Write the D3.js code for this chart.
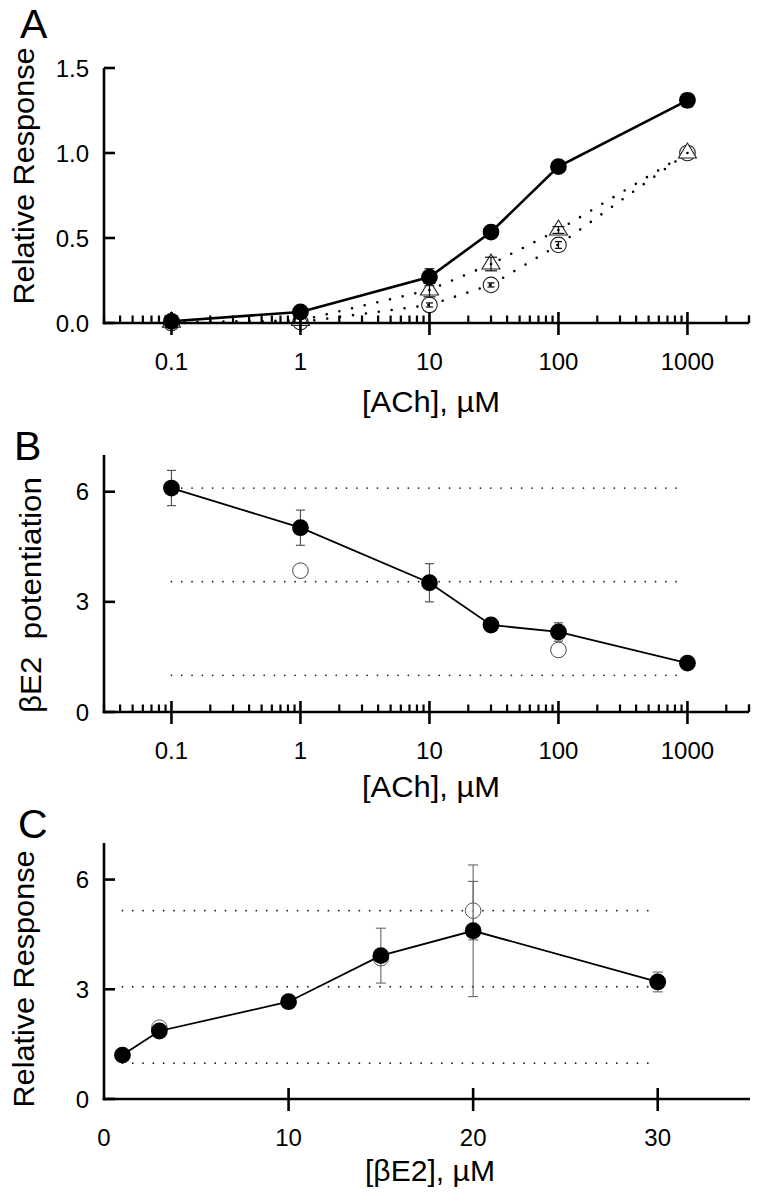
<!DOCTYPE html>
<html><head><meta charset="utf-8">
<script src="https://cdn.jsdelivr.net/npm/d3@7"></script>
<style>body{margin:0;background:#fff}svg{display:block}text{font-family:"Liberation Sans",Arial,Helvetica,sans-serif;fill:#000}</style>
</head><body><svg id="c" width="761" height="1199"></svg>
<script>
// ---------- DATA ----------
// Panel A
const aX = [0.1, 1, 10, 30, 100, 1000];
const aFilled = [0.01, 0.065, 0.27, 0.535, 0.92, 1.31];
const aFilledErr = [0.01, 0.01, 0.05, 0.015, 0.02, 0.04];
const aCircle = [0.0, 0.005, 0.106, 0.224, 0.459, 1.0];
const aCircleErr = [0.0, 0.0, 0.012, 0.012, 0.02, 0.0];
const aTriangle = [0.005, 0.015, 0.194, 0.347, 0.547, 1.0];
const aTriangleErr = [0.0, 0.0, 0.04, 0.04, 0.02, 0.0];
const aYTicks = [0, 0.5, 1.0, 1.5];
const aYTickLabels = ["0.0", "0.5", "1.0", "1.5"];
// Panel B
const bX = [0.1, 1, 10, 30, 100, 1000];
const bFilled = [6.1, 5.02, 3.52, 2.37, 2.18, 1.33];
const bFilledErr = [0.48, 0.48, 0.52, 0.05, 0.25, 0.05];
const bOpenX = [1, 100];
const bOpen = [3.85, 1.69];
const bRefLines = [6.1, 3.55, 1.0];
const bRefRange = [0.1, 900];
const bYTicks = [0, 3, 6];
// Shared log x axis (A, B)
const logMajor = [0.1, 1, 10, 100, 1000];
const logMajorLabels = ["0.1", "1", "10", "100", "1000"];
const logDomain = [0.03, 3000];
// Panel C
const cX = [1, 3, 10, 15, 20, 30];
const cFilled = [1.2, 1.86, 2.66, 3.92, 4.6, 3.2];
const cFilledErr = [0.05, 0.06, 0.05, 0.75, 1.8, 0.27];
const cOpenX = [3, 15, 20];
const cOpen = [1.95, 3.85, 5.15];
const cOpenErr = [0.0, 0.0, 0.8];
const cRefLines = [5.15, 3.07, 0.98];
const cRefRange = [1, 30];
const cXTicks = [0, 10, 20, 30];
const cYTicks = [0, 3, 6];

// ---------- DRAW ----------
const svg = d3.select("#c");
const AX = 2.6;

function leftAxis(y, x0, ticks, labels, top, bottom) {
  const g = svg.append("g");
  g.append("line").attr("x1", x0).attr("x2", x0).attr("y1", top).attr("y2", bottom + AX/2)
    .attr("stroke", "#000").attr("stroke-width", AX);
  ticks.forEach((t, i) => {
    g.append("line").attr("x1", x0).attr("x2", x0 + 11).attr("y1", y(t)).attr("y2", y(t))
      .attr("stroke", "#000").attr("stroke-width", AX);
    g.append("text").attr("x", x0 - 15).attr("y", y(t) + 8.5).attr("text-anchor", "end")
      .attr("font-size", 24).text(labels ? labels[i] : String(t));
  });
}

function logBottomAxis(x, y0) {
  const g = svg.append("g");
  g.append("line").attr("x1", x.range()[0] - AX/2).attr("x2", x.range()[1]).attr("y1", y0).attr("y2", y0)
    .attr("stroke", "#000").attr("stroke-width", AX);
  const all = x.ticks();
  const minor = all.filter(t => !logMajor.some(m => Math.abs(m - t) / m < 1e-6));
  minor.forEach(t => {
    g.append("line").attr("x1", x(t)).attr("x2", x(t)).attr("y1", y0).attr("y2", y0 - 7.5)
      .attr("stroke", "#000").attr("stroke-width", 2.2);
  });
  // end tick at domain max
  g.append("line").attr("x1", x(logDomain[1])).attr("x2", x(logDomain[1])).attr("y1", y0).attr("y2", y0 - 7.5)
    .attr("stroke", "#000").attr("stroke-width", 2.2);
  logMajor.forEach((t, i) => {
    g.append("line").attr("x1", x(t)).attr("x2", x(t)).attr("y1", y0 - 11).attr("y2", y0 + 12)
      .attr("stroke", "#000").attr("stroke-width", AX);
    g.append("text").attr("x", x(t)).attr("y", y0 + 47).attr("text-anchor", "middle")
      .attr("font-size", 24).text(logMajorLabels[i]);
  });
}

function yLabel(text, x, yc, len) {
  svg.append("text").attr("transform", `translate(${x},${yc}) rotate(-90)`)
    .attr("text-anchor", "middle").attr("font-size", 30)
    .attr("textLength", len).attr("lengthAdjust", "spacingAndGlyphs")
    .style("white-space", "pre").text(text);
}
function xLabel(text, xc, y, len) {
  svg.append("text").attr("x", xc).attr("y", y).attr("text-anchor", "middle").attr("font-size", 30)
    .attr("textLength", len).attr("lengthAdjust", "spacingAndGlyphs").text(text);
}
function panelLetter(t, x, y) {
  svg.append("text").attr("x", x).attr("y", y).attr("font-size", 41).text(t);
}
function errBar(g, cx, yTop, yBot, color, w, capHalf) {
  g.append("line").attr("x1", cx).attr("x2", cx).attr("y1", yTop).attr("y2", yBot)
    .attr("stroke", color).attr("stroke-width", w);
  [yTop, yBot].forEach(yy => g.append("line").attr("x1", cx - capHalf).attr("x2", cx + capHalf)
    .attr("y1", yy).attr("y2", yy).attr("stroke", color).attr("stroke-width", w));
}

// ===== Panel A =====
const xA = d3.scaleLog().domain(logDomain).range([104, 749]);
const yA = d3.scaleLinear().domain([0, 1.5]).range([323, 68]);
{
  const g = svg.append("g");
  const dotted = d3.line().x((d) => xA(d[0])).y(d => yA(d[1]));
  g.append("path").datum(aX.map((x, i) => [x, aCircle[i]])).attr("d", dotted)
    .attr("fill", "none").attr("stroke", "#000").attr("stroke-width", 2.6)
    .attr("stroke-dasharray", "0,13").attr("stroke-linecap", "round");
  g.append("path").datum(aX.map((x, i) => [x, aTriangle[i]])).attr("d", dotted)
    .attr("fill", "none").attr("stroke", "#000").attr("stroke-width", 2.6)
    .attr("stroke-dasharray", "0,13").attr("stroke-linecap", "round");
  // open circles
  aX.forEach((x, i) => {
    const cx = xA(x), cy = yA(aCircle[i]);
    g.append("circle").attr("cx", cx).attr("cy", cy).attr("r", 7.8)
      .attr("fill", "#fff").attr("stroke", "#222").attr("stroke-width", 1.1);
    if (aCircleErr[i] > 0) errBar(g, cx, yA(aCircle[i] + aCircleErr[i]), yA(aCircle[i] - aCircleErr[i]), "#111", 1.3, 3.5);
    g.append("circle").attr("cx", cx - 1).attr("cy", cy).attr("r", 1.3).attr("fill", "#000");
  });
  // triangles
  aX.forEach((x, i) => {
    const cx = xA(x), cy = yA(aTriangle[i]);
    g.append("path").attr("d", `M${cx},${cy - 10}L${cx + 9},${cy + 5}L${cx - 9},${cy + 5}Z`)
      .attr("fill", "#fff").attr("stroke", "#222").attr("stroke-width", 1.1);
    if (aTriangleErr[i] > 0) errBar(g, cx, yA(aTriangle[i] + aTriangleErr[i]), yA(aTriangle[i] - aTriangleErr[i]), "#111", 1.2, 6);
    g.append("circle").attr("cx", cx).attr("cy", cy).attr("r", 1.3).attr("fill", "#000");
  });
  // filled
  const solid = d3.line().x((d, i) => xA(aX[i])).y(d => yA(d));
  g.append("path").datum(aFilled).attr("d", solid).attr("fill", "none")
    .attr("stroke", "#000").attr("stroke-width", 2.6);
  aX.forEach((x, i) => {
    errBar(g, xA(x), yA(aFilled[i] + aFilledErr[i]), yA(aFilled[i] - aFilledErr[i]), "#333", 1.2, 5);
    g.append("circle").attr("cx", xA(x)).attr("cy", yA(aFilled[i])).attr("r", 8.4).attr("fill", "#000");
  });
}
leftAxis(yA, 104, aYTicks, aYTickLabels, 68, 323);
logBottomAxis(xA, 323);
yLabel("Relative Response", 34, 176, 257);
xLabel("[ACh], \u00b5M", 431, 412, 138);
panelLetter("A", 20, 38);

// ===== Panel B =====
const xB = d3.scaleLog().domain(logDomain).range([104, 749]);
const yB = d3.scaleLinear().domain([0, 7]).range([712, 455]);
{
  const g = svg.append("g");
  bRefLines.forEach(v => {
    g.append("line").attr("x1", xB(bRefRange[0])).attr("x2", xB(bRefRange[1]))
      .attr("y1", yB(v)).attr("y2", yB(v)).attr("stroke", "#222").attr("stroke-width", 1.8)
      .attr("stroke-dasharray", "0,10.3").attr("stroke-linecap", "round");
  });
  bOpenX.forEach((x, i) => {
    g.append("circle").attr("cx", xB(x)).attr("cy", yB(bOpen[i])).attr("r", 7.8)
      .attr("fill", "#fff").attr("stroke", "#444").attr("stroke-width", 1);
  });
  const solid = d3.line().x((d, i) => xB(bX[i])).y(d => yB(d));
  g.append("path").datum(bFilled).attr("d", solid).attr("fill", "none")
    .attr("stroke", "#000").attr("stroke-width", 1.8);
  bX.forEach((x, i) => {
    errBar(g, xB(x), yB(bFilled[i] + bFilledErr[i]), yB(bFilled[i] - bFilledErr[i]), "#555", 1.2, 4.5);
    g.append("circle").attr("cx", xB(x)).attr("cy", yB(bFilled[i])).attr("r", 8.4).attr("fill", "#000");
  });
}
leftAxis(yB, 104, bYTicks, null, 455, 712);
logBottomAxis(xB, 712);
yLabel("\u03b2E2  potentiation", 41, 595, 236);
xLabel("[ACh], \u00b5M", 431, 797, 138);
panelLetter("B", 14, 460);

// ===== Panel C =====
const xC = d3.scaleLinear().domain([0, 35]).range([104, 750]);
const yC = d3.scaleLinear().domain([0, 7]).range([1099, 843]);
{
  const g = svg.append("g");
  cRefLines.forEach(v => {
    g.append("line").attr("x1", xC(cRefRange[0])).attr("x2", xC(cRefRange[1]))
      .attr("y1", yC(v)).attr("y2", yC(v)).attr("stroke", "#222").attr("stroke-width", 1.8)
      .attr("stroke-dasharray", "0,10.3").attr("stroke-linecap", "round");
  });
  cOpenX.forEach((x, i) => {
    if (cOpenErr[i] > 0) errBar(g, xC(x), yC(cOpen[i] + cOpenErr[i]), yC(cOpen[i] - cOpenErr[i]), "#666", 1.1, 5);
    g.append("circle").attr("cx", xC(x)).attr("cy", yC(cOpen[i])).attr("r", 7.8)
      .attr("fill", "#fff").attr("fill-opacity", 0.6).attr("stroke", "#555").attr("stroke-width", 1);
  });
  const solid = d3.line().x((d, i) => xC(cX[i])).y(d => yC(d));
  g.append("path").datum(cFilled).attr("d", solid).attr("fill", "none")
    .attr("stroke", "#000").attr("stroke-width", 1.8);
  cX.forEach((x, i) => {
    errBar(g, xC(x), yC(cFilled[i] + cFilledErr[i]), yC(cFilled[i] - cFilledErr[i]), "#666", 1.1, 5);
    g.append("circle").attr("cx", xC(x)).attr("cy", yC(cFilled[i])).attr("r", 8.4).attr("fill", "#000");
  });
}
leftAxis(yC, 104, cYTicks, null, 843, 1099);
{
  const g = svg.append("g");
  g.append("line").attr("x1", 104 - AX/2).attr("x2", xC(35)).attr("y1", 1099).attr("y2", 1099)
    .attr("stroke", "#000").attr("stroke-width", AX);
  cXTicks.forEach(t => {
    if (t > 0) g.append("line").attr("x1", xC(t)).attr("x2", xC(t)).attr("y1", 1088).attr("y2", 1111)
      .attr("stroke", "#000").attr("stroke-width", AX);
    g.append("text").attr("x", xC(t)).attr("y", 1146).attr("text-anchor", "middle")
      .attr("font-size", 24).text(String(t));
  });
}
yLabel("Relative Response", 34, 979, 257);
xLabel("[\u03b2E2], \u00b5M", 430, 1181, 130);
panelLetter("C", 18, 838);
</script></body></html>
